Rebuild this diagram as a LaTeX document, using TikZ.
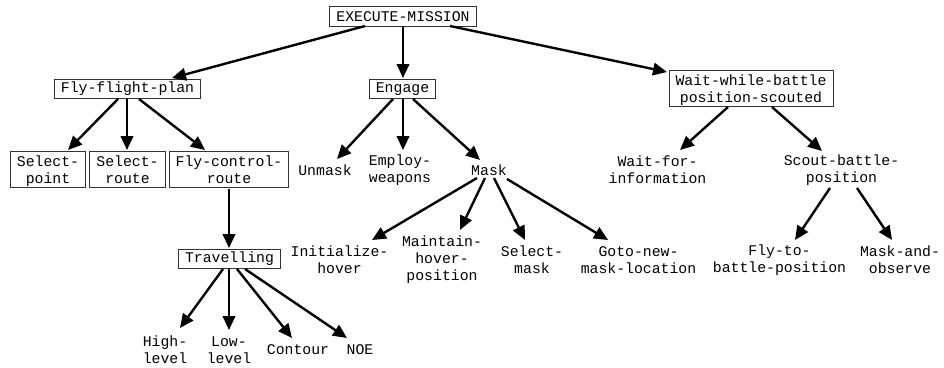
\documentclass[tikz,border=0pt]{standalone}
\usepackage{fontspec}
\setmonofont{Liberation Mono}
\usetikzlibrary{arrows.meta}
\tikzset{
  lbl/.style={font=\ttfamily\fontsize{14.8}{17}\selectfont, align=center, inner sep=0pt},
  box/.style={lbl, draw=black!80, line width=1pt, inner xsep=6.5pt, inner ysep=2.5pt},
  onebox/.style={box, minimum height=19.5pt},
  twobox/.style={box, text height=30pt, text depth=1.5pt},
  arr/.style={line width=2.4pt, -{Triangle[length=14pt,width=12.5pt]}},
}
\begin{document}
\begin{tikzpicture}[x=1pt,y=-1pt]
\useasboundingbox (0,0) rectangle (944,367);
% top level
\node[onebox] (exec) at (403,16.5) {EXECUTE-MISSION};
% second level
\node[onebox] (ffp) at (127.5,89) {Fly-flight-plan};
\node[onebox] (engage) at (402.5,89) {Engage};
\node[twobox] (wait) at (751,88.5) {Wait-while-battle\\position-scouted};
% third level
\node[twobox] (sp) at (48,169.5) {Select-\\point};
\node[twobox] (sr) at (127.5,169.5) {Select-\\route};
\node[twobox] (fcr) at (229,169.5) {Fly-control-\\route};
\node[lbl] (unmask) at (325,170) {Unmask};
\node[lbl] (employ) at (400,170) {Employ-\\weapons};
\node[lbl] (mask) at (489,170) {Mask};
\node[lbl] (waitinfo) at (657.5,170) {Wait-for-\\information};
\node[lbl] (scout) at (841.5,170) {Scout-battle-\\position};
% fourth level
\node[onebox] (trav) at (229.5,259) {Travelling};
\node[lbl] (init) at (339.5,260) {Initialize-\\hover};
\node[lbl] (maintain) at (442,260) {Maintain-\\hover-\\position};
\node[lbl] (selmask) at (532,260) {Select-\\mask};
\node[lbl] (goto) at (638.5,260) {Goto-new-\\mask-location};
\node[lbl] (flyto) at (779.5,260) {Fly-to-\\battle-position};
\node[lbl] (maskobs) at (900,260) {Mask-and-\\observe};
% fifth level
\node[lbl] (high) at (165,350) {High-\\level};
\node[lbl] (low) at (229,350) {Low-\\level};
\node[lbl] (contour) at (298,350) {Contour};
\node[lbl] (noe) at (360,350) {NOE};

% connectors
\draw[arr] ([shift={(-38,9.5)}]exec.center) -- ([shift={(44.5,-11)}]ffp.center);
\draw[arr] ([shift={(0,9.5)}]exec.center) -- ([shift={(0.5,-11)}]engage.center);
\draw[arr] ([shift={(47,9.5)}]exec.center) -- ([shift={(-84,-16.5)}]wait.center);

\draw[arr] ([shift={(-9.5,10)}]ffp.center) -- ([shift={(20,-19.5)}]sp.center);
\draw[arr] ([shift={(-0.5,10)}]ffp.center) -- ([shift={(-0.5,-19.5)}]sr.center);
\draw[arr] ([shift={(11.5,10)}]ffp.center) -- ([shift={(-24,-19.5)}]fcr.center);

\draw[arr] ([shift={(-9.5,10)}]engage.center) -- ([shift={(12,-11)}]unmask.center);
\draw[arr] ([shift={(0.5,10)}]engage.center) -- ([shift={(3,-20)}]employ.center);
\draw[arr] ([shift={(10.5,10)}]engage.center) -- ([shift={(-9,-10)}]mask.center);

\draw[arr] ([shift={(0,19.5)}]fcr.center) -- ([shift={(-0.5,-11)}]trav.center);

\draw[arr] ([shift={(-23,18.5)}]wait.center) -- ([shift={(22.5,-20)}]waitinfo.center);
\draw[arr] ([shift={(21,18.5)}]wait.center) -- ([shift={(-19.5,-19)}]scout.center);

\draw[arr] ([shift={(-12,8)}]mask.center) -- ([shift={(32.5,-20)}]init.center);
\draw[arr] ([shift={(-4,8)}]mask.center) -- ([shift={(18,-30)}]maintain.center);
\draw[arr] ([shift={(5,8)}]mask.center) -- ([shift={(-7,-20)}]selmask.center);
\draw[arr] ([shift={(18,9)}]mask.center) -- ([shift={(-30.5,-20)}]goto.center);

\draw[arr] ([shift={(-6.5,10)}]trav.center) -- ([shift={(15,-22)}]high.center);
\draw[arr] ([shift={(-0.5,10)}]trav.center) -- ([shift={(0,-20)}]low.center);
\draw[arr] ([shift={(7.5,10)}]trav.center) -- ([shift={(-6,-12)}]contour.center);
\draw[arr] ([shift={(15.5,10)}]trav.center) -- ([shift={(-13,-12)}]noe.center);

\draw[arr] ([shift={(-11.5,18)}]scout.center) -- ([shift={(15.5,-20)}]flyto.center);
\draw[arr] ([shift={(15.5,18)}]scout.center) -- ([shift={(-8,-20)}]maskobs.center);
\end{tikzpicture}
\end{document}
